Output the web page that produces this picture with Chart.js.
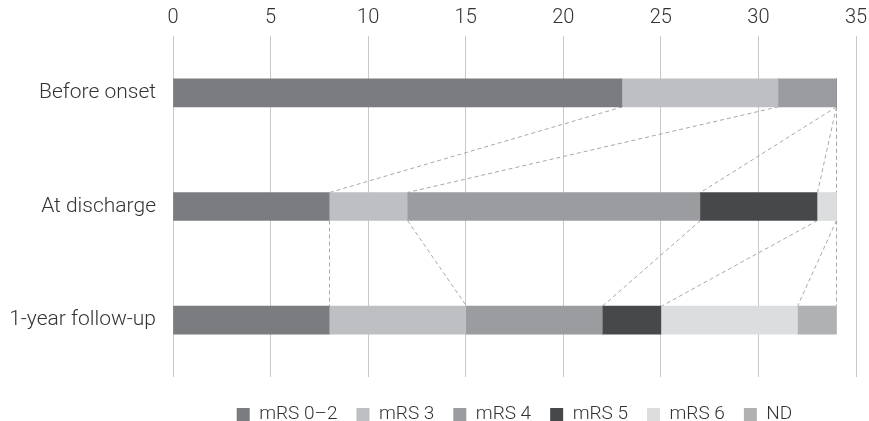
<!DOCTYPE html>
<html><head><meta charset="utf-8">
<script src="https://cdn.jsdelivr.net/npm/chart.js@4"></script>
<style>html,body{margin:0;padding:0;background:#fff}#wrap{width:869px;height:421px}</style>
</head><body><div id="wrap"><canvas id="c"></canvas></div>
<script>
const categories = ["Before onset", "At discharge", "1-year follow-up"];
const seriesNames = ["mRS 0\u20132", "mRS 3", "mRS 4", "mRS 5", "mRS 6", "ND"];
const mrs02 = [23, 8, 8];
const mrs3  = [8, 4, 7];
const mrs4  = [3, 15, 7];
const mrs5  = [0, 6, 3];
const mrs6  = [0, 1, 7];
const nd    = [0, 0, 2];
const xTicks = [0, 5, 10, 15, 20, 25, 30, 35];
const colors = ["#7b7c80", "#bebfc2", "#9b9c9f", "#47484a", "#dcddde", "#b0b1b3"];
const series = [mrs02, mrs3, mrs4, mrs5, mrs6, nd];

const connectors = {
  id: 'connectors',
  beforeDatasetsDraw(chart) {
    const ctx = chart.ctx, xs = chart.scales.x;
    const metas = series.map((s, d) => chart.getDatasetMeta(d));
    ctx.save();
    ctx.strokeStyle = '#a8a8a8';
    ctx.lineWidth = 1;
    ctx.setLineDash([4, 3]);
    for (let i = 0; i < categories.length - 1; i++) {
      let c1 = 0, c2 = 0;
      const b1 = metas[0].data[i], b2 = metas[0].data[i + 1];
      const yBot = b1.y + b1.height / 2, yTop = b2.y - b2.height / 2;
      for (let d = 0; d < series.length; d++) {
        c1 += series[d][i]; c2 += series[d][i + 1];
        ctx.beginPath();
        ctx.moveTo(Math.round(xs.getPixelForValue(c1)) + 0.5, yBot);
        ctx.lineTo(Math.round(xs.getPixelForValue(c2)) + 0.5, yTop);
        ctx.stroke();
      }
    }
    ctx.restore();
  }
};

const legendPlace = {
  id: 'legendPlace',
  beforeLayout(chart) {
    const lg = chart.legend;
    if (lg && !lg._patched) {
      const orig = lg.fit.bind(lg);
      lg.fit = function () { orig(); this.height = 44; };
      lg._patched = true;
    }
  },
  afterLayout(chart) {
    const lg = chart.legend, ca = chart.chartArea;
    lg.left = ca.left; lg.right = ca.right; lg.width = ca.right - ca.left;
    lg.top = ca.bottom + 9; lg.bottom = lg.top + 44;
  }
};

Chart.defaults.font.family = "Roboto, 'Liberation Sans', sans-serif";
Chart.defaults.font.weight = '300';
Chart.defaults.color = '#333';

new Chart(document.getElementById('c'), {
  type: 'bar',
  data: {
    labels: categories,
    datasets: series.map((s, d) => ({
      label: seriesNames[d], data: s, backgroundColor: colors[d],
      borderWidth: 0, barThickness: 28
    }))
  },
  options: {
    indexAxis: 'y',
    responsive: true, maintainAspectRatio: false, animation: false,
    layout: { padding: { top: 0, right: 13, left: 0, bottom: 0 } },
    scales: {
      x: {
        position: 'top', stacked: true, min: 0, max: 35,
        afterBuildTicks: (ax) => { ax.ticks = xTicks.map(v => ({ value: v })); },
        afterFit: (s) => { s.height = 36; s.paddingLeft = 0; s.paddingRight = 0; },
        grid: { color: '#c8c8c8', drawTicks: false },
        border: { display: false },
        ticks: { font: { size: 20, weight: '300' }, padding: 6, color: '#333', maxRotation: 0 }
      },
      y: {
        stacked: true,
        afterFit: (s) => { s.width = 173; s.paddingTop = 0; s.paddingBottom = 0; },
        grid: { display: false, drawTicks: false },
        border: { display: false },
        ticks: { font: { size: 21, weight: '300' }, padding: 17, color: '#333' }
      }
    },
    plugins: {
      legend: {
        position: 'bottom',
        labels: { boxWidth: 13, boxHeight: 13, padding: 19, font: { size: 19, weight: '300' }, color: '#333' }
      },
      tooltip: { enabled: false }
    }
  },
  plugins: [connectors, legendPlace]
});
</script></body></html>
